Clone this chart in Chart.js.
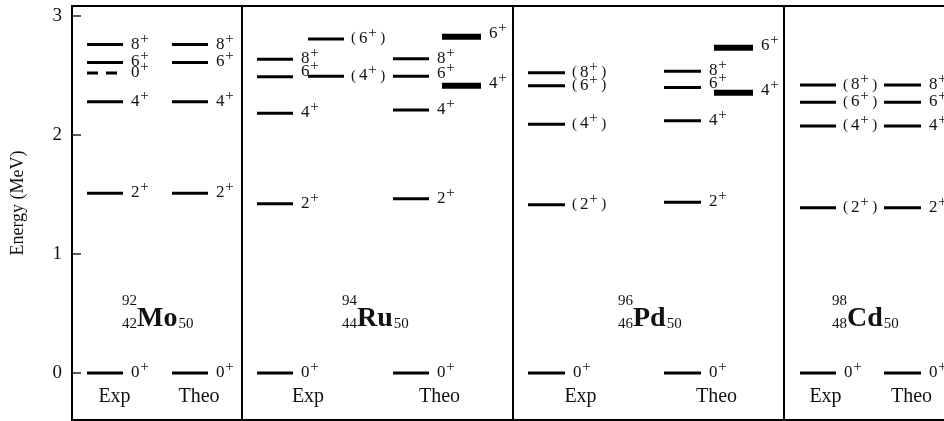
<!DOCTYPE html>
<html><head><meta charset="utf-8">
<script src="https://cdn.jsdelivr.net/npm/chart.js@4"></script>
<style>html,body{margin:0;padding:0;background:#fff;overflow:hidden;width:944px;height:421px}canvas{display:block}</style>
</head><body><canvas id="c" width="1000" height="421"></canvas>
<script>
// ---------------- data ----------------
const nuclei = ['Mo', 'Ru', 'Pd', 'Cd'];
const massNumbers = [92, 94, 96, 98];
const protonNumbers = [42, 44, 46, 48];
const neutronNumbers = [50, 50, 50, 50];
const columnLabels = ['Exp', 'Theo'];
const yTickValues = [0, 1, 2, 3];
const yAxisTitle = 'Energy (MeV)';

const moExpSpins = [0, 2, 4, 0, 6, 8];
const moExpEnergies = [0, 1.51, 2.28, 2.52, 2.61, 2.76];
const moTheoSpins = [0, 2, 4, 6, 8];
const moTheoEnergies = [0, 1.51, 2.28, 2.61, 2.76];

const ruExpSpins = [0, 2, 4, 6, 8];
const ruExpEnergies = [0, 1.423, 2.182, 2.49, 2.636];
const ruExpSideSpins = [4, 6];
const ruExpSideEnergies = [2.493, 2.807];
const ruTheoSpins = [0, 2, 4, 6, 8];
const ruTheoEnergies = [0, 1.465, 2.21, 2.493, 2.641];
const ruTheoSideSpins = [4, 6];
const ruTheoSideEnergies = [2.414, 2.826];

const pdExpSpins = [0, 2, 4, 6, 8];
const pdExpEnergies = [0, 1.414, 2.09, 2.414, 2.524];
const pdTheoSpins = [0, 2, 4, 6, 8];
const pdTheoEnergies = [0, 1.434, 2.12, 2.40, 2.535];
const pdTheoSideSpins = [4, 6];
const pdTheoSideEnergies = [2.355, 2.734];

const cdExpSpins = [0, 2, 4, 6, 8];
const cdExpEnergies = [0, 1.389, 2.076, 2.275, 2.42];
const cdTheoSpins = [0, 2, 4, 6, 8];
const cdTheoEnergies = [0, 1.389, 2.076, 2.275, 2.42];

// tentative (parenthesised) spin assignments
const ruExpSideTentative = [true, true];
const pdExpTentative = [false, true, true, true, true];
const cdExpTentative = [false, true, true, true, true];

// ---------------- layout / style ----------------
const FONT = '"Liberation Serif", "DejaVu Serif", serif';
const columns = [
  { spins: moExpSpins, E: moExpEnergies, x0: 87, x1: 123, dashed: [false, false, false, true, false, false] },
  { spins: moTheoSpins, E: moTheoEnergies, x0: 172, x1: 208 },
  { spins: ruExpSpins, E: ruExpEnergies, x0: 257, x1: 293, nudge: [0, 0, 0, -5, 0] },
  { spins: ruExpSideSpins, E: ruExpSideEnergies, x0: 308, x1: 344, tentative: ruExpSideTentative },
  { spins: ruTheoSpins, E: ruTheoEnergies, x0: 393, x1: 429, nudge: [0, 0, 0, -2, 0] },
  { spins: ruTheoSideSpins, E: ruTheoSideEnergies, x0: 442, x1: 481, thick: true, nudge: [-1.5, -3] },
  { spins: pdExpSpins, E: pdExpEnergies, x0: 528, x1: 565, tentative: pdExpTentative },
  { spins: pdTheoSpins, E: pdTheoEnergies, x0: 664, x1: 701, nudge: [0, 0, 0, -3, 0] },
  { spins: pdTheoSideSpins, E: pdTheoSideEnergies, x0: 714, x1: 753, thick: true, nudge: [-1.5, -1.5] },
  { spins: cdExpSpins, E: cdExpEnergies, x0: 800, x1: 836, tentative: cdExpTentative },
  { spins: cdTheoSpins, E: cdTheoEnergies, x0: 884, x1: 921 }
];
const panelSeparators = [242, 513, 784];
const nucleusX = [137, 357, 633, 847];
const expTheoX = [[114.5, 199], [308, 439.5], [580.5, 716.5], [825.5, 911.5]];

// build datasets from the data arrays
const datasets = [];
columns.forEach(col => {
  col.E.forEach((e, i) => {
    const dashed = col.dashed && col.dashed[i];
    datasets.push({
      data: [{ x: col.x0, y: e }, { x: col.x1, y: e }],
      showLine: true,
      borderColor: '#000',
      borderWidth: col.thick ? 6 : 3,
      borderDash: dashed ? [11, 8] : [],
      borderCapStyle: 'butt',
      pointRadius: 0,
      pointHoverRadius: 0,
      fill: false
    });
  });
});

const overlay = {
  id: 'overlay',
  afterDraw(chart) {
    const ctx = chart.ctx, ca = chart.chartArea;
    const xs = chart.scales.x, ys = chart.scales.y;
    ctx.save();
    ctx.strokeStyle = '#000';
    ctx.fillStyle = '#111';
    // frame
    ctx.lineWidth = 2;
    ctx.strokeRect(ca.left, ca.top, ca.right - ca.left, ca.bottom - ca.top);
    // panel separators
    panelSeparators.forEach(v => {
      const px = Math.round(xs.getPixelForValue(v));
      ctx.beginPath(); ctx.moveTo(px, ca.top); ctx.lineTo(px, ca.bottom); ctx.stroke();
    });
    // inner tick marks
    ctx.lineWidth = 1.3;
    yTickValues.forEach(v => {
      const py = ys.getPixelForValue(v);
      ctx.beginPath(); ctx.moveTo(ca.left, py); ctx.lineTo(ca.left + 9, py); ctx.stroke();
    });
    // y axis title
    ctx.save();
    ctx.translate(18, 203);
    ctx.rotate(-Math.PI / 2);
    ctx.font = '18px ' + FONT;
    ctx.textAlign = 'center';
    ctx.textBaseline = 'middle';
    ctx.fillText(yAxisTitle, 0, 0);
    ctx.restore();
    // spin labels
    ctx.textAlign = 'left';
    ctx.textBaseline = 'alphabetic';
    columns.forEach(col => {
      col.E.forEach((e, i) => {
        const tent = col.tentative && col.tentative[i];
        const nudge = (col.nudge && col.nudge[i]) || 0;
        const px = xs.getPixelForValue(col.x1);
        const py = ys.getPixelForValue(e);
        const base = py + 4 + nudge;
        let cx = px + (tent ? 7 : 8);
        if (tent) {
          ctx.font = '15px ' + FONT;
          ctx.fillText('(', cx, base - 0.5);
          cx += 8;
        }
        ctx.font = '17px ' + FONT;
        const s = String(col.spins[i]);
        ctx.fillText(s, cx, base);
        cx += ctx.measureText(s).width + 0.8;
        ctx.font = '15px ' + FONT;
        ctx.fillText('+', cx, base - 6);
        cx += ctx.measureText('+').width;
        if (tent) {
          ctx.font = '15px ' + FONT;
          ctx.fillText(')', cx + 3.5, base - 0.5);
        }
      });
    });
    // nucleus labels
    nuclei.forEach((sym, k) => {
      const ex = xs.getPixelForValue(nucleusX[k]);
      ctx.font = '15px ' + FONT;
      ctx.textAlign = 'right';
      ctx.fillText(String(massNumbers[k]), ex, 305);
      ctx.fillText(String(protonNumbers[k]), ex, 328);
      ctx.textAlign = 'left';
      ctx.font = 'bold 28px ' + FONT;
      ctx.fillText(sym, ex, 326);
      const w = ctx.measureText(sym).width;
      ctx.font = '15px ' + FONT;
      ctx.fillText(String(neutronNumbers[k]), ex + w + 1, 328);
    });
    // Exp / Theo labels
    ctx.font = '20px ' + FONT;
    ctx.textAlign = 'center';
    expTheoX.forEach(pair => {
      pair.forEach((v, j) => {
        ctx.fillText(columnLabels[j], xs.getPixelForValue(v), 402);
      });
    });
    ctx.restore();
  }
};

new Chart(document.getElementById('c'), {
  type: 'scatter',
  data: { datasets },
  options: {
    responsive: false,
    animation: false,
    events: [],
    layout: { padding: { left: 0, right: 0, top: 6, bottom: 1 } },
    plugins: { legend: { display: false }, tooltip: { enabled: false } },
    scales: {
      x: { type: 'linear', display: false, min: 72, max: 1000 },
      y: {
        type: 'linear',
        min: -0.395,
        max: 3.084,
        afterBuildTicks: s => { s.ticks = yTickValues.map(v => ({ value: v })); },
        afterFit: s => { s.width = 72; s.paddingTop = 0; s.paddingBottom = 0; },
        grid: { display: false, drawTicks: false },
        border: { display: false },
        ticks: { padding: 10, color: '#111', font: { family: FONT, size: 19 } }
      }
    }
  },
  plugins: [overlay]
});
</script>
</body></html>
